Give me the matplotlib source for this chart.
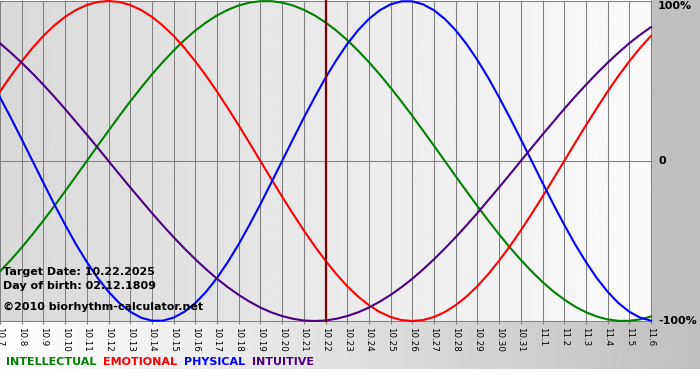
import numpy as np
import matplotlib.pyplot as plt
from matplotlib.patches import Rectangle
from matplotlib.offsetbox import TextArea, HPacker, AnchoredOffsetbox

# days shown on the x axis (month.day)
dates = ["10.7", "10.8", "10.9", "10.10", "10.11", "10.12", "10.13", "10.14",
         "10.15", "10.16", "10.17", "10.18", "10.19", "10.20", "10.21", "10.22",
         "10.23", "10.24", "10.25", "10.26", "10.27", "10.28", "10.29", "10.30",
         "10.31", "11.1", "11.2", "11.3", "11.4", "11.5", "11.6"]
target_date = "10.22"
target_text = "Target Date: 10.22.2025"
birth_text = "Day of birth: 02.12.1809"
credit_text = "\u00a92010 biorhythm-calculator.net"

# cycle values read every half day from 10.7 to 11.6, -1..1
intellectual = [-0.690, -0.618, -0.541, -0.458, -0.372, -0.282, -0.189, -0.095, 0.000,
                0.095, 0.189, 0.282, 0.372, 0.458, 0.541, 0.618, 0.690, 0.756, 0.815,
                0.866, 0.910, 0.945, 0.972, 0.990, 0.999, 0.999, 0.990, 0.972, 0.945,
                0.910, 0.866, 0.815, 0.756, 0.690, 0.618, 0.541, 0.458, 0.372, 0.282,
                0.189, 0.095, 0.000, -0.095, -0.189, -0.282, -0.372, -0.458, -0.541,
                -0.618, -0.690, -0.756, -0.815, -0.866, -0.910, -0.945, -0.972, -0.990,
                -0.999, -0.999, -0.990, -0.972]
emotional = [0.434, 0.532, 0.623, 0.707, 0.782, 0.847, 0.901, 0.944, 0.975, 0.994,
             1.000, 0.994, 0.975, 0.944, 0.901, 0.847, 0.782, 0.707, 0.623, 0.532,
             0.434, 0.330, 0.223, 0.112, 0.000, -0.112, -0.223, -0.330, -0.434, -0.532,
             -0.623, -0.707, -0.782, -0.847, -0.901, -0.944, -0.975, -0.994, -1.000,
             -0.994, -0.975, -0.944, -0.901, -0.847, -0.782, -0.707, -0.623, -0.532,
             -0.434, -0.330, -0.223, -0.112, 0.000, 0.112, 0.223, 0.330, 0.434, 0.532,
             0.623, 0.707, 0.782]
physical = [0.398, 0.270, 0.136, 0.000, -0.136, -0.270, -0.398, -0.520, -0.631, -0.731,
            -0.817, -0.888, -0.942, -0.979, -0.998, -0.998, -0.979, -0.942, -0.888,
            -0.817, -0.731, -0.631, -0.520, -0.398, -0.270, -0.136, 0.000, 0.136, 0.270,
            0.398, 0.520, 0.631, 0.731, 0.817, 0.888, 0.942, 0.979, 0.998, 0.998, 0.979,
            0.942, 0.888, 0.817, 0.731, 0.631, 0.520, 0.398, 0.270, 0.136, 0.000,
            -0.136, -0.270, -0.398, -0.520, -0.631, -0.731, -0.817, -0.888, -0.942,
            -0.979, -0.998]
intuitive = [0.736, 0.677, 0.614, 0.547, 0.476, 0.402, 0.325, 0.245, 0.165, 0.083,
             0.000, -0.083, -0.165, -0.245, -0.325, -0.402, -0.476, -0.547, -0.614,
             -0.677, -0.736, -0.789, -0.837, -0.879, -0.916, -0.946, -0.969, -0.986,
             -0.997, -1.000, -0.997, -0.986, -0.969, -0.946, -0.916, -0.879, -0.837,
             -0.789, -0.736, -0.677, -0.614, -0.547, -0.476, -0.402, -0.325, -0.245,
             -0.165, -0.083, 0.000, 0.083, 0.165, 0.245, 0.325, 0.402, 0.476, 0.547,
             0.614, 0.677, 0.736, 0.789, 0.837]

series_names = ["INTELLECTUAL", "EMOTIONAL", "PHYSICAL", "INTUITIVE"]
series_values = [intellectual, emotional, physical, intuitive]
series_colors = ["#008000", "#ff0000", "#0000ff", "#4b0082"]
samples_per_day = 2

W, H = 700, 380
fig = plt.figure(figsize=(W / 100, H / 100), dpi=100)
fig.patch.set_facecolor("white")

# figure background: grey strip on the right, gradient band under the plot
bg = fig.add_axes([0, 0, 1, 1], zorder=-10)
bg.imshow(np.linspace(1.0, 0.75, 256)[None, :], cmap="gray", vmin=0, vmax=1,
          extent=(0, W, 369, 321), aspect="auto")
bg.add_patch(Rectangle((651, 0), W - 651, 321, color="#c0c0c0", lw=0))
bg.set_xlim(0, W)
bg.set_ylim(H, 0)
bg.axis("off")

# plot area
ax = fig.add_axes([0, (H - 321) / H, 651 / W, 320 / H])
ax.imshow(np.linspace(0.85, 0.98, 256)[None, :], cmap="gray", vmin=0, vmax=1,
          extent=(0, 1, 0, 1), transform=ax.transAxes, aspect="auto", zorder=0)
x = np.arange(len(dates))
for i in x:
    ax.axvline(i, color="#808080", lw=0.75, zorder=1, clip_on=False)
for v in (-1, 0, 1):
    ax.axhline(v, color="#808080", lw=0.75, zorder=1, clip_on=False)

for vals, col in zip(series_values, series_colors):
    xs = np.arange(len(vals)) / samples_per_day
    ax.plot(xs, vals, color=col, lw=1.5, zorder=3, clip_on=False,
            solid_joinstyle="round")

ax.axvline(dates.index(target_date), color="#800000", lw=1.6, zorder=5, clip_on=False)

ax.set_xlim(0, len(dates) - 1)
ax.set_ylim(-1, 1)
for s in ax.spines.values():
    s.set_visible(False)
ax.set_xticks(x)
ax.set_xticklabels(dates, rotation=270, fontsize=6.3)
ax.tick_params(axis="x", length=2, color="#808080", pad=2)
ax.set_yticks([])

# right-hand percent labels
ax.text(1.011, 1.0, "100%", transform=ax.transAxes, fontsize=8, fontweight="bold",
        va="top", ha="left")
ax.text(1.011, 0.5, "0", transform=ax.transAxes, fontsize=8, fontweight="bold",
        va="center", ha="left")
ax.text(1.011, 0.0, "-100%", transform=ax.transAxes, fontsize=8, fontweight="bold",
        va="center", ha="left")

# info text inside the plot
for txt, yy in [(target_text, 0.153), (birth_text, 0.109), (credit_text, 0.044)]:
    ax.text(0.004, yy, txt, transform=ax.transAxes, fontsize=8, fontweight="bold",
            va="center", ha="left", zorder=6)

# legend row under the chart
items = [TextArea(n, textprops=dict(color=c, fontsize=8, fontweight="bold"))
         for n, c in zip(series_names, series_colors)]
box = AnchoredOffsetbox(loc="center left", child=HPacker(children=items, sep=5, pad=0),
                        bbox_to_anchor=(6 / W, 1 - 362 / H), bbox_transform=fig.transFigure,
                        frameon=False, pad=0, borderpad=0)
fig.add_artist(box)

fig.savefig("out.png", dpi=100)
